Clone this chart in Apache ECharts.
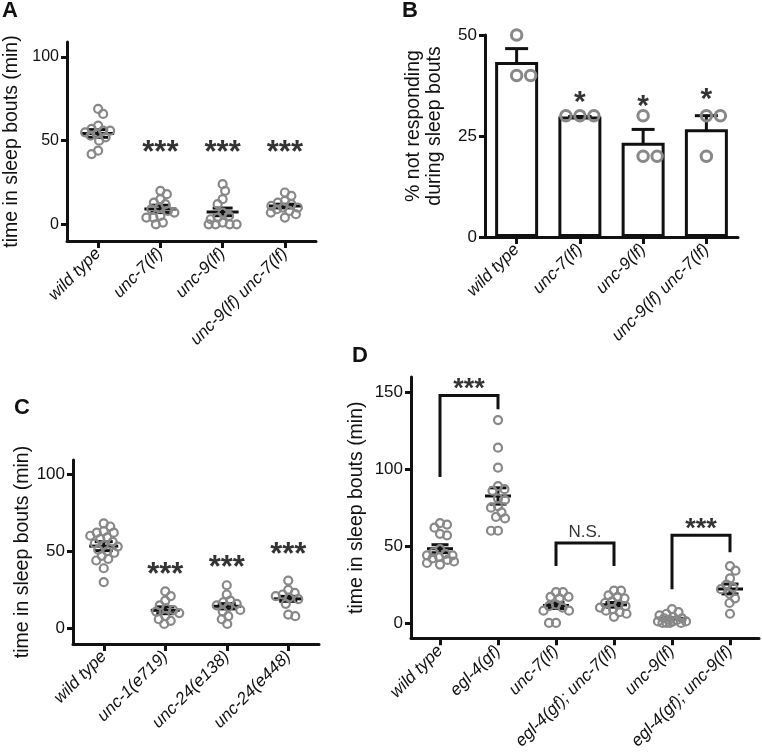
<!DOCTYPE html>
<html><head><meta charset="utf-8">
<script src="https://cdn.jsdelivr.net/npm/echarts@6/dist/echarts.min.js"></script>
<style>html,body{margin:0;padding:0;background:#fff}#c{width:762px;height:752px}</style>
</head><body><div id="c"></div>
<script>
// ---------------- DATA ----------------
// Panel A
const catsA = ['wild type', 'unc-7(lf)', 'unc-9(lf)', 'unc-9(lf) unc-7(lf)'];
const A_wildType = [69, 66, 59, 57, 56, 56, 55, 54, 53, 52, 50, 44, 42];
const A_unc7 = [20, 18, 15, 13, 12, 10, 9, 8, 7, 5, 4, 4, 1, 0];
const A_unc9 = [24, 20, 15, 12, 7, 5, 4, 3, 1, 0, 0, 0, 0];
const A_unc9unc7 = [19, 17, 14, 13, 12, 11, 10, 10, 9, 8, 7, 6, 4];
const A_mean = [54.3, 9.2, 7.4, 10.9];
const A_sem = [2.3, 2.2, 2.3, 1.1];
const A_stars = ['', '***', '***', '***'];
const A_starY = [null, 46.7, 46.7, 46.7];
const A_ticks = [0, 50, 100];

// Panel B
const catsB = ['wild type', 'unc-7(lf)', 'unc-9(lf)', 'unc-9(lf) unc-7(lf)'];
const B_wildType = [50, 40, 40];
const B_unc7 = [30, 30, 30];
const B_unc9 = [30, 20, 20];
const B_unc9unc7 = [30, 30, 20];
const B_mean = [43.3, 29.8, 23.3, 26.7];
const B_sem = [3.33, 0, 3.33, 3.33];
const B_stars = ['', '*', '*', '*'];
const B_starY = [null, 34.9, 33.9, 35.7];
const B_ticks = [0, 25, 50];

// Panel C
const catsC = ['wild type', 'unc-1(e719)', 'unc-24(e138)', 'unc-24(e448)'];
const C_wildType = [68, 66, 63, 62, 62, 60, 59, 58, 56, 55, 54, 53, 51, 50, 49, 47, 45, 44, 39, 30];
const C_unc1 = [24, 21, 18, 15, 13, 12, 11, 10, 8, 6, 5, 3];
const C_unc24e138 = [28, 22, 18, 17, 16, 15, 14, 12, 11, 8, 6, 3];
const C_unc24e448 = [31, 25, 23, 22, 21, 20, 19, 16, 9, 8];
const C_mean = [53.3, 11.8, 14.4, 19.2];
const C_sem = [2.9, 2.2, 1.7, 1.6];
const C_stars = ['', '***', '***', '***'];
const C_starY = [null, 38.7, 43.4, 52];
const C_ticks = [0, 50, 100];

// Panel D
const catsD = ['wild type', 'egl-4(gf)', 'unc-7(lf)', 'egl-4(gf); unc-7(lf)', 'unc-9(lf)', 'egl-4(gf); unc-9(lf)'];
const D_wildType = [65, 64, 62, 58, 57, 48, 46, 45, 44, 43, 42, 41, 40, 39, 38, 44];
const D_egl4 = [132, 114, 101, 89, 87, 86, 81, 80, 76, 75, 72, 69, 68, 60, 60];
const D_unc7 = [20, 20, 17, 17, 16, 12, 11, 10, 8, 8, 0, 0];
const D_egl4unc7 = [21, 21, 18, 17, 16, 14, 13, 12, 11, 10, 9, 8, 7, 6, 4];
const D_unc9 = [9, 7, 6, 5, 4, 3, 3, 2, 2, 1, 1, 1, 0, 0, 0, 0];
const D_egl4unc9 = [37, 34, 29, 25, 23, 22, 19, 16, 13, 6];
const D_mean = [48.3, 82.6, 11.4, 11.8, 3.0, 22.1];
const D_sem = [2.6, 5.3, 2.0, 1.5, 0.6, 3.2];
const D_ticks = [0, 50, 100, 150];
// significance brackets
const D_bracketFrom = [0, 2, 4];
const D_bracketTo = [1, 3, 5];
const D_bracketLeftEnd = [95, 37, 22];
const D_bracketTop = [148, 52, 57];
const D_bracketRightEnd = [139, 37, 46];
const D_bracketText = ['***', 'N.S.', '***'];
const D_bracketTextY = [156, 59, 64.4];

// ---------------- STYLE ----------------
const FONT = '"Liberation Sans", Arial, Helvetica, sans-serif';
const INK = '#111111';
const GRAY = '#888888';

const chart = echarts.init(document.getElementById('c'), null, {renderer: 'canvas'});

function catAxis(gi, cats) {
  return {
    type: 'category', gridIndex: gi, data: cats, position: 'bottom', boundaryGap: true,
    axisLine: {show: true, onZero: false, lineStyle: {color: INK, width: 3}},
    axisTick: {show: true, alignWithLabel: true, length: 7, lineStyle: {color: INK, width: 3}},
    axisLabel: {rotate: 45, margin: 10, fontSize: 17, fontStyle: 'italic', color: INK, fontFamily: FONT, interval: 0},
    splitLine: {show: false}
  };
}
function valXAxis(gi, n) {
  return {type: 'value', gridIndex: gi, min: -0.5, max: n - 0.5, show: false, splitLine: {show: false}};
}
function yAx(gi, min, max, ticks, name, nameGap, labelSize, pad) {
  return {
    type: 'value', gridIndex: gi, min: min, max: max, name: name, nameLocation: 'middle', nameGap: nameGap,
    nameTextStyle: {fontSize: 19.5, color: INK, fontFamily: FONT, lineHeight: 21, padding: pad || 0},
    axisLine: {show: true, onZero: false, lineStyle: {color: INK, width: 3}},
    axisTick: {show: true, length: 6, lineStyle: {color: INK, width: 3}, customValues: ticks},
    axisLabel: {fontSize: labelSize, color: INK, fontFamily: FONT, margin: 8, customValues: ticks},
    splitLine: {show: false}
  };
}

function meanSem(meanW, capW, lw) {
  return function (params, api) {
    const x = api.value(0), m = api.value(1), s = api.value(2);
    const pm = api.coord([x, m]);
    const pt = api.coord([x, m + s]);
    const pb = api.coord([x, m - s]);
    const st = {stroke: INK, lineWidth: lw};
    const ch = [];
    if (meanW > 0) ch.push({type: 'line', shape: {x1: pm[0] - meanW / 2, y1: pm[1], x2: pm[0] + meanW / 2, y2: pm[1]}, style: st});
    ch.push({type: 'line', shape: {x1: pm[0], y1: pt[1], x2: pm[0], y2: pb[1]}, style: st});
    ch.push({type: 'line', shape: {x1: pm[0] - capW / 2, y1: pt[1], x2: pm[0] + capW / 2, y2: pt[1]}, style: st});
    ch.push({type: 'line', shape: {x1: pm[0] - capW / 2, y1: pb[1], x2: pm[0] + capW / 2, y2: pb[1]}, style: st});
    return {type: 'group', children: ch};
  };
}
function msData(means, sems) { return means.map((m, i) => [i, m, sems[i]]); }
function starData(stars, ys) {
  const out = [];
  stars.forEach((s, i) => { if (s) out.push({name: s, value: [i, ys[i]]}); });
  return out;
}
function starSeries(xi, yi, data, size) {
  return {
    type: 'scatter', xAxisIndex: xi, yAxisIndex: yi, symbolSize: 0, data: data, silent: true,
    label: {show: true, position: 'inside', formatter: '{b}', fontSize: size, fontWeight: 'bold', color: '#000', fontFamily: FONT, offset: [0, size * 0.23]}
  };
}
function ptsSeries(id, xi, yi, size, bw) {
  return {
    id: id, type: 'scatter', xAxisIndex: xi, yAxisIndex: yi, symbol: 'circle', symbolSize: size, data: [],
    itemStyle: {color: 'rgba(0,0,0,0)', borderColor: GRAY, borderWidth: bw, opacity: 1}
  };
}

const series = [];
series.push({type: 'bar', xAxisIndex: 2, yAxisIndex: 1, data: B_mean, barWidth: 43,
  itemStyle: {color: '#fff', borderColor: INK, borderWidth: 3}});
series.push(ptsSeries('ptsA', 1, 0, 8, 2.2));
series.push(ptsSeries('ptsB', 3, 1, 10.5, 3));
series.push(ptsSeries('ptsC', 5, 2, 8, 2.2));
series.push(ptsSeries('ptsD', 7, 3, 8, 2.2));
series.push({type: 'custom', xAxisIndex: 1, yAxisIndex: 0, renderItem: meanSem(32, 20, 3), data: msData(A_mean, A_sem), encode: {x: 0, y: 1}});
series.push({type: 'custom', xAxisIndex: 3, yAxisIndex: 1, renderItem: meanSem(0, 23, 3), data: msData(B_mean, B_sem), encode: {x: 0, y: 1}});
series.push({type: 'custom', xAxisIndex: 5, yAxisIndex: 2, renderItem: meanSem(29, 18, 3), data: msData(C_mean, C_sem), encode: {x: 0, y: 1}});
series.push({type: 'custom', xAxisIndex: 7, yAxisIndex: 3, renderItem: meanSem(26, 17, 3), data: msData(D_mean, D_sem), encode: {x: 0, y: 1}});
series.push(starSeries(1, 0, starData(A_stars, A_starY), 31));
series.push(starSeries(3, 1, starData(B_stars, B_starY), 30));
series.push(starSeries(5, 2, starData(C_stars, C_starY), 31));
D_bracketFrom.forEach((a, k) => {
  const b = D_bracketTo[k];
  series.push({type: 'line', xAxisIndex: 7, yAxisIndex: 3, symbol: 'none', silent: true,
    data: [[a, D_bracketLeftEnd[k]], [a, D_bracketTop[k]], [b, D_bracketTop[k]], [b, D_bracketRightEnd[k]]],
    lineStyle: {color: INK, width: 3, join: 'miter'}});
  const isStar = D_bracketText[k] === '***';
  series.push({type: 'scatter', xAxisIndex: 7, yAxisIndex: 3, symbolSize: 0, silent: true,
    data: [{name: D_bracketText[k], value: [(a + b) / 2, D_bracketTextY[k]]}],
    label: {show: true, position: 'inside', formatter: '{b}', fontSize: isStar ? 27 : 17,
      fontWeight: isStar ? 'bold' : 'normal', color: '#000', fontFamily: FONT, offset: [0, isStar ? 6 : 0]}});
});

const option = {
  animation: false,
  backgroundColor: '#fff',
  textStyle: {fontFamily: FONT},
  grid: [
    {left: 67, top: 42, width: 249, height: 199},
    {left: 485, top: 35, width: 253, height: 202},
    {left: 73, top: 460, width: 246, height: 184},
    {left: 411, top: 377, width: 348, height: 264}
  ],
  xAxis: [
    catAxis(0, catsA), valXAxis(0, catsA.length),
    catAxis(1, catsB), valXAxis(1, catsB.length),
    catAxis(2, catsC), valXAxis(2, catsC.length),
    catAxis(3, catsD), valXAxis(3, catsD.length)
  ],
  yAxis: [
    yAx(0, -10, 109, A_ticks, 'time in sleep bouts (min)', 45, 16),
    yAx(1, 0, 50, B_ticks, '% not responding\nduring sleep bouts', 40, 17, [0, 0, 0, 20]),
    yAx(2, -10, 109, C_ticks, 'time in sleep bouts (min)', 37, 17),
    yAx(3, -10, 160, D_ticks, 'time in sleep bouts (min)', 44, 17)
  ],
  graphic: [
    {type: 'text', left: 2, top: 0, style: {text: 'A', fontSize: 22, fontWeight: 'bold', fontFamily: FONT, fill: INK}},
    {type: 'text', left: 402, top: 0, style: {text: 'B', fontSize: 22, fontWeight: 'bold', fontFamily: FONT, fill: INK}},
    {type: 'text', left: 14, top: 397, style: {text: 'C', fontSize: 22, fontWeight: 'bold', fontFamily: FONT, fill: INK}},
    {type: 'text', left: 352, top: 345, style: {text: 'D', fontSize: 22, fontWeight: 'bold', fontFamily: FONT, fill: INK}}
  ],
  series: series
};
chart.setOption(option);

// --------- beeswarm placement of points, through the chart's own scales ---------
function beeswarm(values, yOf, d, maxOff) {
  const order = values.map((v, i) => i).sort((a, b) => values[b] - values[a]);
  const placed = [];
  const offs = new Array(values.length);
  let pref = 1;
  order.forEach(i => {
    const y = yOf(values[i]);
    const minDist = o => placed.reduce((m, p) => Math.min(m, Math.hypot(p.x - o, p.y - y)), Infinity);
    let best = null, bestScore = -1, bestO = 0;
    for (let k = 0; k <= maxOff && best === null; k += 0.5) {
      const cands = k === 0 ? [0] : [pref * k, -pref * k];
      for (const o of cands) {
        const md = minDist(o);
        if (md >= d) { best = o; break; }
        if (md > bestScore + 0.01) { bestScore = md; bestO = o; }
      }
    }
    if (best === null) best = bestO;
    if (best !== 0) pref = best > 0 ? -1 : 1;
    placed.push({x: best, y: y});
    offs[i] = best;
  });
  return offs;
}
const swarmDefs = [
  {id: 'ptsA', xi: 1, yi: 0, groups: [A_wildType, A_unc7, A_unc9, A_unc9unc7], d: 7, max: 14},
  {id: 'ptsB', xi: 3, yi: 1, groups: [B_wildType, B_unc7, B_unc9, B_unc9unc7], d: 14, max: 20},
  {id: 'ptsC', xi: 5, yi: 2, groups: [C_wildType, C_unc1, C_unc24e138, C_unc24e448], d: 7, max: 14},
  {id: 'ptsD', xi: 7, yi: 3, groups: [D_wildType, D_egl4, D_unc7, D_egl4unc7, D_unc9, D_egl4unc9], d: 7, max: 14}
];
const updates = swarmDefs.map(def => {
  const data = [];
  def.groups.forEach((vals, gi) => {
    const cx = chart.convertToPixel({xAxisIndex: def.xi}, gi);
    const offs = beeswarm(vals, v => chart.convertToPixel({yAxisIndex: def.yi}, v), def.d, def.max);
    vals.forEach((v, k) => data.push([chart.convertFromPixel({xAxisIndex: def.xi}, cx + offs[k]), v]));
  });
  return {id: def.id, data: data};
});
chart.setOption({series: updates});
</script></body></html>
